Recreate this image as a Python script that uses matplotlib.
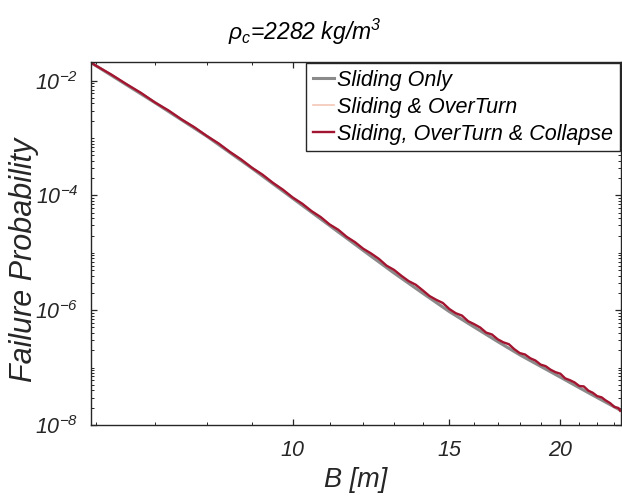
import numpy as np
import matplotlib
matplotlib.use("Agg")
import matplotlib.pyplot as plt
from matplotlib.ticker import FixedLocator, NullFormatter, FixedFormatter, LogLocator

plt.rcParams['font.family'] = ['Liberation Sans', 'DejaVu Sans']
plt.rcParams['mathtext.fontset'] = 'custom'
plt.rcParams['mathtext.rm'] = 'Liberation Sans:italic'
plt.rcParams['mathtext.it'] = 'Liberation Sans:italic'
plt.rcParams['mathtext.default'] = 'it'

# ---- data ----
gray_x = [5.93, 6, 7, 8, 9, 10, 11, 12, 13, 14, 15, 16, 17, 18, 19, 20, 21, 22, 23, 23.35]
gray_log10 = [-1.687, -1.736, -2.386, -2.967, -3.529, -4.052, -4.525, -4.958, -5.353,
              -5.703, -6.024, -6.294, -6.546, -6.777, -6.977, -7.167, -7.350, -7.522,
              -7.685, -7.741]

red_x = [5.93, 6.0, 6.25, 6.5, 6.75, 7.0, 7.25, 7.5, 7.75, 8.0, 8.25, 8.5, 8.75, 9.0,
         9.25, 9.5, 9.75, 10.0, 10.25, 10.5, 10.75, 11.0, 11.25, 11.5, 11.75, 12.0,
         12.25, 12.5, 12.75, 13.0, 13.25, 13.5, 13.75, 14.0, 14.25, 14.5, 14.75, 15.0,
         15.25, 15.5, 15.75, 16.0, 16.25, 16.5, 16.75, 17.0, 17.25, 17.5, 17.75, 18.0,
         18.25, 18.5, 18.75, 19.0, 19.25, 19.5, 19.75, 20.0, 20.25, 20.5, 20.75, 21.0,
         21.25, 21.5, 21.75, 22.0, 22.25, 22.5, 22.75, 23.0, 23.25, 23.35]
red_log10 = [-1.687, -1.736, -1.894, -2.061, -2.214, -2.381, -2.521, -2.677, -2.812,
             -2.962, -3.093, -3.243, -3.374, -3.519, -3.640, -3.781, -3.901, -4.037,
             -4.145, -4.274, -4.377, -4.505, -4.598, -4.722, -4.815, -4.928, -5.012,
             -5.106, -5.224, -5.298, -5.401, -5.493, -5.556, -5.653, -5.753, -5.819,
             -5.874, -5.979, -6.052, -6.094, -6.192, -6.244, -6.302, -6.390, -6.423,
             -6.506, -6.559, -6.592, -6.679, -6.747, -6.772, -6.837, -6.877, -6.947,
             -6.975, -7.037, -7.080, -7.107, -7.188, -7.219, -7.259, -7.320, -7.328,
             -7.401, -7.439, -7.497, -7.518, -7.574, -7.619, -7.685, -7.705, -7.751]

labels = ['Sliding Only', 'Sliding & OverTurn', 'Sliding, OverTurn & Collapse']
x_major = [10, 15, 20]
x_major_labels = ['10', '15', '20']
x_minor = [6, 7, 8, 9, 11, 12, 13, 14, 16, 17, 18, 19, 21, 22, 23]
y_major = [1e-8, 1e-6, 1e-4, 1e-2]
y_major_labels = [r'$\mathit{10^{-8}}$', r'$\mathit{10^{-6}}$', r'$\mathit{10^{-4}}$', r'$\mathit{10^{-2}}$']

# ---- figure ----
fig = plt.figure(figsize=(6.22, 4.98), dpi=100)
ax = fig.add_axes([91/622, 1-425/498, 530/622, 363/498])

ax.plot(gray_x, 10**np.array(gray_log10), color='#8a8a8a', lw=2.2, label=labels[0])
ax.plot(red_x, 10**np.array(red_log10), color='#F4C6B6', lw=1.2, label=labels[1])
ax.plot(red_x, 10**np.array(red_log10), color='#A2142F', lw=1.7, label=labels[2])

ax.set_xscale('log')
ax.set_yscale('log')
ax.set_xlim(5.93, 23.4)
ax.set_ylim(1e-8, 0.0211)

ax.xaxis.set_major_locator(FixedLocator(x_major))
ax.xaxis.set_major_formatter(FixedFormatter(x_major_labels))
ax.xaxis.set_minor_locator(FixedLocator(x_minor))
ax.xaxis.set_minor_formatter(NullFormatter())
ax.yaxis.set_major_locator(FixedLocator(y_major))
ax.yaxis.set_major_formatter(FixedFormatter(y_major_labels))
ax.yaxis.set_minor_locator(LogLocator(base=10, subs=np.arange(1, 10), numticks=50))
ax.yaxis.set_minor_formatter(NullFormatter())

axcol = '#262626'
for s in ax.spines.values():
    s.set_color(axcol)
    s.set_linewidth(1.0)
ax.tick_params(which='both', direction='in', top=True, right=True, colors=axcol,
               labelcolor=axcol)
ax.tick_params(which='major', length=4, width=0.9, labelsize=15.5)
ax.tick_params(axis='x', which='major', pad=11)
ax.tick_params(axis='y', which='major', pad=9)
ax.tick_params(which='minor', length=2.2, width=0.7)
for lab in ax.get_xticklabels():
    lab.set_fontstyle('italic')

ax.set_xlabel('B [m]', fontsize=19.5, fontstyle='italic', color=axcol, labelpad=4)
ax.set_ylabel('Failure Probability', fontsize=22, fontstyle='italic', color=axcol)
ax.yaxis.set_label_coords(-0.098, 0.455)

fig.text(305/622, 1-40/498, r'$\rho_c$=2282 kg/m$^3$', fontsize=16.5, fontstyle='italic',
         ha='center', va='baseline', color='black')

leg = ax.legend(loc='upper right', frameon=True, fancybox=False,
                borderaxespad=0.05, handlelength=1.0, handletextpad=0.15,
                labelspacing=0.28, borderpad=0.3, prop={'style': 'italic', 'size': 15.5})
leg.get_frame().set_edgecolor('#262626')
leg.get_frame().set_linewidth(1.0)
leg.get_frame().set_alpha(1)

fig.savefig('out.png', dpi=100)
